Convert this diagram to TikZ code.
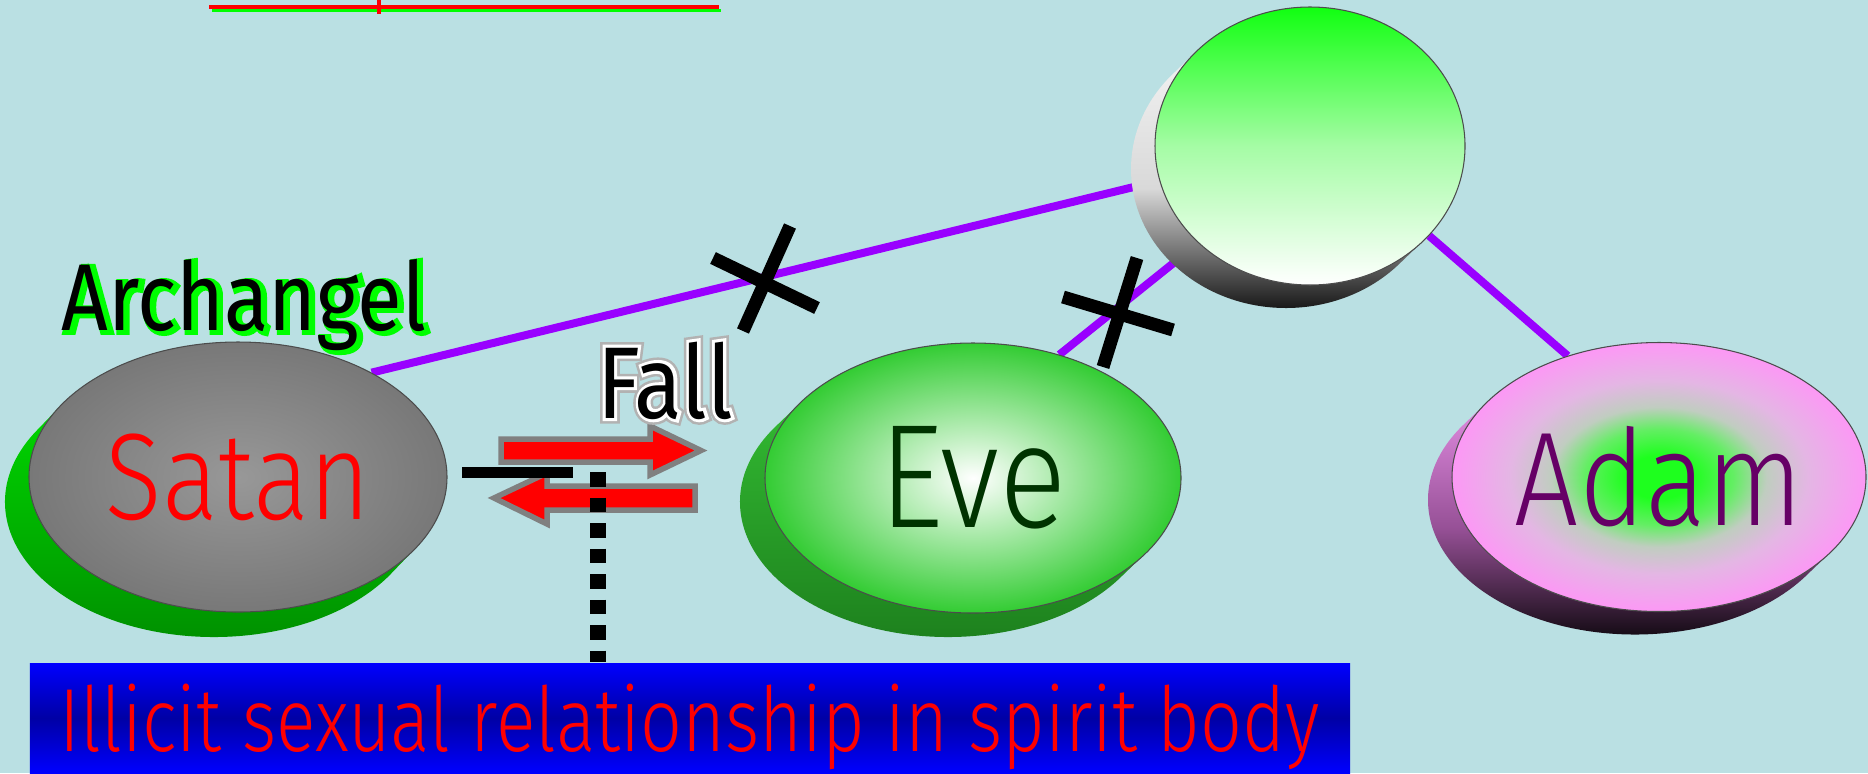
\documentclass[tikz,border=0pt]{standalone}
\usepackage{fontspec}
\usetikzlibrary{shapes.geometric}
\newfontfamily\thinfont{Fira Sans Light}[FakeStretch=0.85]
\newfontfamily\boxfont{Fira Sans Light}[FakeStretch=0.82]
\newfontfamily\labelfont{Fira Sans}[FakeStretch=0.86]
\newfontfamily\labelhalo{Fira Sans}[FakeStretch=0.86, FakeBold=6]
\newfontfamily\labelglow{Fira Sans}[FakeStretch=0.86, FakeBold=11]

\definecolor{sky}{RGB}{186,224,227}
\definecolor{bondviolet}{RGB}{153,0,255}
\definecolor{titlegreen}{RGB}{0,255,0}
\definecolor{archgreen}{RGB}{0,255,0}
\definecolor{satanlight}{RGB}{152,152,152}
\definecolor{satandark}{RGB}{120,120,120}
\definecolor{satansidetop}{RGB}{0,215,0}
\definecolor{satansidebot}{RGB}{0,140,0}
\definecolor{evegreen}{RGB}{51,204,51}
\definecolor{evesidetop}{RGB}{50,185,50}
\definecolor{evesidebot}{RGB}{28,125,28}
\definecolor{evetext}{RGB}{0,51,0}
\definecolor{adamgreen}{RGB}{30,255,30}
\definecolor{adamleaf}{RGB}{100,238,100}
\definecolor{adamgrey}{RGB}{192,205,192}
\definecolor{adammist}{RGB}{228,182,228}
\definecolor{adampink}{RGB}{252,152,245}
\definecolor{adamsidetop}{RGB}{225,140,225}
\definecolor{adamsidemid}{RGB}{150,80,150}
\definecolor{adamtext}{RGB}{102,0,102}
\definecolor{godgreen}{RGB}{17,255,17}
\definecolor{godmid}{RGB}{165,252,165}
\definecolor{boxblue}{RGB}{0,0,255}
\definecolor{boxnavy}{RGB}{0,0,165}

\pgfdeclarelayer{background}
\pgfsetlayers{background,main}
\pgfdeclareradialshading{adamglow}{\pgfpoint{0bp}{0bp}}{color(0bp)=(adamgreen); color(4bp)=(adamgreen); color(9bp)=(adamleaf); color(13bp)=(adamgrey); color(18bp)=(adammist); color(25bp)=(adampink); color(50bp)=(adampink)}

\begin{document}
\begin{tikzpicture}[
    bond/.style={draw=bondviolet, line width=0.08cm},
    cutmark/.style={draw=black, line width=0.13cm},
    face/.style={ellipse, inner sep=0pt, draw=gray!60!black, line width=0.3pt},
    fallarrow/.style={fill=red, draw=gray, line width=0.055cm, line join=miter},
    tie/.style={draw=black, line width=0.155cm, dash pattern=on 0.145cm off 0.11cm}]
    \useasboundingbox (0,0) rectangle (18.68,-7.73);
    \begin{pgfonlayer}{background}
        \fill[sky] (0,0) rectangle (18.68,-7.73);
    \end{pgfonlayer}
    \draw[titlegreen, line width=0.03cm] (2.12,-0.10) -- (7.21,-0.10);
    \draw[red, line width=0.04cm] (2.09,-0.07) -- (7.19,-0.07);
    \draw[red, line width=0.04cm] (3.79,0) -- (3.79,-0.14);
    \path[top color=satansidetop, bottom color=satansidebot] (2.38,-4.77) ++(-0.24,-0.25) ++(147:2.09 and 1.35) arc[start angle=147, end angle=327, x radius=2.09, y radius=1.35] -- ++(0.24,0.25) arc[start angle=327, end angle=147, x radius=2.09, y radius=1.35] -- cycle;
    \path[top color=evesidetop, bottom color=evesidebot] (9.73,-4.78) ++(-0.25,-0.24) ++(147:2.08 and 1.35) arc[start angle=147, end angle=327, x radius=2.08, y radius=1.35] -- ++(0.25,0.24) arc[start angle=327, end angle=147, x radius=2.08, y radius=1.35] -- cycle;
    \path[top color=adamsidetop, bottom color=black, middle color=adamsidemid] (16.59,-4.77) ++(-0.24,-0.23) ++(147:2.07 and 1.345) arc[start angle=147, end angle=327, x radius=2.07, y radius=1.345] -- ++(0.24,0.23) arc[start angle=327, end angle=147, x radius=2.07, y radius=1.345] -- cycle;
    \path[top color=gray!10, bottom color=black, middle color=gray!30] (13.10,-1.46) ++(-0.24,-0.23) ++(138:1.55 and 1.39) arc[start angle=138, end angle=318, x radius=1.55, y radius=1.39] -- ++(0.24,0.23) arc[start angle=318, end angle=138, x radius=1.55, y radius=1.39] -- cycle;
    \node[face, minimum width=4.18cm, minimum height=2.70cm, inner color=satanlight, outer color=satandark, text=red, font=\thinfont\fontsize{35}{40}\selectfont] (satan) at (2.38,-4.77) {Satan};
    \node[face, minimum width=4.16cm, minimum height=2.70cm, inner color=white, outer color=evegreen, text=evetext, font=\thinfont\fontsize{42}{46}\selectfont] (eve) at (9.73,-4.78) {Eve};
    \node[face, minimum width=4.14cm, minimum height=2.69cm, shading=adamglow, text=adamtext, font=\thinfont\fontsize{38}{42}\selectfont] (adam) at (16.59,-4.77) {Adam};
    \node[face, minimum width=3.10cm, minimum height=2.78cm, top color=godgreen, bottom color=white, middle color=godmid] (god) at (13.10,-1.46) {};
    \begin{pgfonlayer}{background}
        \draw[bond] (satan.38) -- (god.193);
        \draw[bond] (eve.55) -- (god.221);
        \draw[bond] (god.323) -- (adam.127);
    \end{pgfonlayer}
    \coordinate (cut1) at (7.66,-2.78);
    \coordinate (cut2) at (11.10,-3.13);
    \draw[cutmark] (cut1) +(-0.53,0.20) -- +(0.51,-0.30) (cut1) +(0.24,0.52) -- +(-0.23,-0.53);
    \draw[cutmark] (cut2) +(-0.47,0.16) -- +(0.63,-0.17) (cut2) +(0.27,0.55) -- +(-0.07,-0.54);
    \draw[fallarrow] (5.01,-4.39) -- (6.50,-4.39) -- (6.50,-4.26) -- (7.01,-4.505) -- (6.50,-4.75) -- (6.50,-4.62) -- (5.01,-4.62) -- cycle;
    \draw[fallarrow] (6.95,-4.86) -- (5.47,-4.86) -- (5.47,-4.73) -- (4.94,-4.98) -- (5.47,-5.24) -- (5.47,-5.10) -- (6.95,-5.10) -- cycle;
    \draw[line width=0.11cm] (4.62,-4.72) -- (5.73,-4.72);
    \node[anchor=base, text=archgreen, font=\labelhalo\fontsize{27}{30}\selectfont] (archangelhalo) at (2.47,-3.32) {Archangel};
    \node[anchor=base, font=\labelfont\fontsize{27}{30}\selectfont] (archangel) at (2.44,-3.30) {Archangel};
    \node[anchor=base, text=gray!60, font=\labelglow\fontsize{29}{32}\selectfont] (fallglow) at (6.65,-4.18) {Fall};
    \node[anchor=base, text=white, font=\labelhalo\fontsize{29}{32}\selectfont] (fallhalo) at (6.65,-4.18) {Fall};
    \node[anchor=base, font=\labelfont\fontsize{29}{32}\selectfont] (fall) at (6.65,-4.18) {Fall};
    \node[minimum width=13.20cm, minimum height=1.10cm, inner sep=0pt, top color=boxblue, bottom color=boxblue, middle color=boxnavy, text=red, font=\boxfont\fontsize{25.5}{28}\selectfont, text height=0.80cm, text depth=0.14cm] (illicit) at (6.90,-7.18) {Illicit sexual relationship in spirit body};
    \coordinate (tie) at (5.98,-4.72);
    \draw[tie] (tie) -- (tie |- illicit.north);
\end{tikzpicture}
\end{document}
